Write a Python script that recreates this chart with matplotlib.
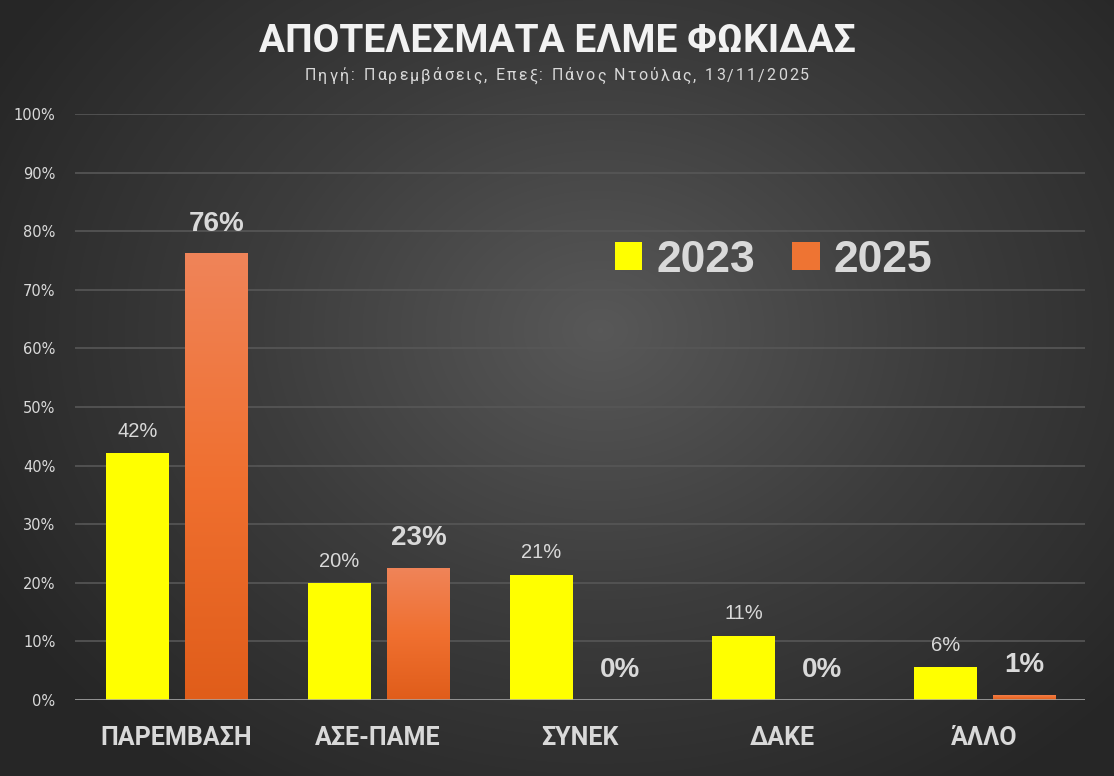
import numpy as np
import matplotlib.pyplot as plt
from matplotlib.colors import LinearSegmentedColormap
from matplotlib.patches import Patch
from matplotlib.ticker import FuncFormatter
from matplotlib.transforms import offset_copy

categories = ['ΠΑΡΕΜΒΑΣΗ', 'ΑΣΕ-ΠΑΜΕ', 'ΣΥΝΕΚ', 'ΔΑΚΕ', 'ΆΛΛΟ']
vals_2023 = [42.1, 19.9, 21.4, 11.0, 5.6]
vals_2025 = [76.2, 22.6, 0.0, 0.0, 0.9]
labels_2023 = ['42%', '20%', '21%', '11%', '6%']
labels_2025 = ['76%', '23%', '0%', '0%', '1%']
series_names = ['2023', '2025']
yticks = [0, 10, 20, 30, 40, 50, 60, 70, 80, 90, 100]

title = 'ΑΠΟΤΕΛΕΣΜΑΤΑ ΕΛΜΕ ΦΩΚΙΔΑΣ'
subtitle = 'Πηγή: Παρεμβάσεις, Επεξ: Πάνος Ντούλας, 13/11/2025'

txt = '#d9d9d9'
yellow = '#ffff00'
orange_top = '#ef8459'
orange_bot = '#e05d1a'

fig = plt.figure(figsize=(11.14, 7.76), dpi=100)

# radial background
bg = fig.add_axes([0, 0, 1, 1], zorder=-10)
yy, xx = np.mgrid[0:776, 0:1114]
d = np.sqrt(((xx - 600) / 700.0) ** 2 + ((yy - 330) / 560.0) ** 2)
d = np.clip(d, 0, 1)
bgmap = LinearSegmentedColormap.from_list('bg', ['#585858', '#3c3c3c', '#262626'])
bg.imshow(d, cmap=bgmap, aspect='auto', extent=[0, 1, 0, 1], origin='upper')
bg.axis('off')

ax = fig.add_axes([75 / 1114, 1 - 700 / 776, 1010 / 1114, 586 / 776])
ax.patch.set_alpha(0)

x = np.arange(len(categories))
w = 0.31
b1 = ax.bar(x - 0.19, vals_2023, w, color=yellow, zorder=3)
b2 = ax.bar(x + 0.2, vals_2025, w, color=orange_bot, zorder=3)

# vertical gradient on the 2025 bars
ocmap = LinearSegmentedColormap.from_list('or', [orange_bot, '#f07030', orange_top])
grad = np.linspace(0, 1, 256).reshape(-1, 1)
for p in b2:
    x0, y0 = p.get_x(), p.get_y()
    h = p.get_height()
    if h <= 0:
        continue
    im = ax.imshow(grad, cmap=ocmap, aspect='auto', origin='lower',
                   extent=[x0, x0 + p.get_width(), y0, y0 + h], zorder=3.5)
    im.set_clip_path(p)

ax.set_xlim(-0.5, len(categories) - 0.5)
ax.set_ylim(0, 100)
ax.set_yticks(yticks)
ax.yaxis.set_major_formatter(FuncFormatter(lambda v, _: f'{v:.0f}%'))
ax.grid(axis='y', color='#575757', lw=1.2, zorder=0)
ax.axhline(0, color='#a6a6a6', lw=1.8, zorder=4)
for s in ax.spines.values():
    s.set_visible(False)
ax.tick_params(axis='y', length=0, pad=14, labelsize=10.5, labelcolor=txt)
ax.tick_params(axis='x', length=0, pad=19)
ax.set_xticks(x)
ax.set_xticklabels(categories, fontsize=18, fontweight='bold', color=txt,
                   family='Roboto')
for t in ax.get_yticklabels():
    t.set_family('DejaVu Sans')

for xi, v, lab in zip(x - 0.19, vals_2023, labels_2023):
    ax.annotate(lab, (xi, v), xytext=(0, 9), textcoords='offset points',
                ha='center', va='bottom', fontsize=14.5, color=txt,
                family='Liberation Sans')
for xi, v, lab in zip(x + 0.2, vals_2025, labels_2025):
    ax.annotate(lab, (xi, v), xytext=(0, 12), textcoords='offset points',
                ha='center', va='bottom', fontsize=20, fontweight='bold',
                color=txt, family='Liberation Sans')

handles = [Patch(facecolor=yellow), Patch(facecolor='#ee7433')]
ax.legend(handles, series_names, loc='center left',
          bbox_to_anchor=((615 - 75) / 1010, (700 - 260) / 586),
          ncol=2, frameon=False, borderpad=0, borderaxespad=0,
          handlelength=0.61, handleheight=0.61,
          handletextpad=0.32, columnspacing=0.84,
          prop={'family': 'Liberation Sans', 'weight': 'bold', 'size': 32},
          labelcolor=txt)

fig.text(557 / 1114, 1 - 42 / 776, title, ha='center', va='center',
         fontsize=28, fontweight='bold', color='#f2f2f2', family='Roboto')

# subtitle with letter spacing, drawn glyph by glyph
renderer = fig.canvas.get_renderer()
track = 2.1  # extra pixels per glyph
sub_kw = dict(fontsize=11.5, color=txt, family='Roboto', va='center', ha='left')
widths = []
for ch in subtitle:
    t = fig.text(0, 0, ch if ch != ' ' else 'n', **sub_kw)
    wch = t.get_window_extent(renderer).width
    if ch == ' ':
        wch *= 0.5
    widths.append(wch)
    t.remove()
total = sum(widths) + track * (len(subtitle) - 1)
xpos = 557 - total / 2
for ch, wch in zip(subtitle, widths):
    tr = offset_copy(fig.transFigure, fig=fig, x=xpos, y=0, units='dots')
    fig.text(0, 1 - 76 / 776, ch, transform=tr, **sub_kw)
    xpos += wch + track

fig.savefig('out.png', dpi=100)
